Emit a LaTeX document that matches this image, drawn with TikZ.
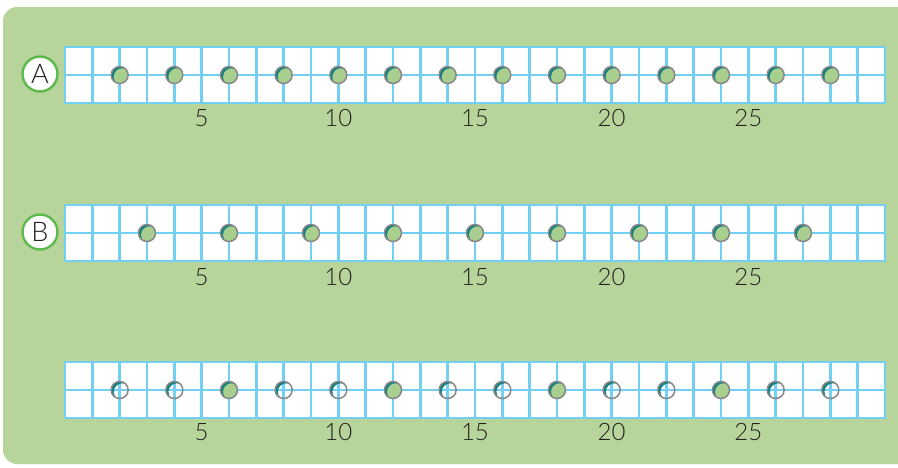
\documentclass[tikz,border=0pt]{standalone}
\usepackage{fontspec}
\setmainfont{Lato Light}
\definecolor{bgc}{HTML}{B7D59B}
\definecolor{gridc}{HTML}{73CFF4}
\definecolor{dotg}{HTML}{A9CF8E}
\definecolor{cresc}{HTML}{137F7F}
\definecolor{rimc}{HTML}{888888}
\definecolor{ringc}{HTML}{5DB94B}
\definecolor{txt}{HTML}{231F20}
\tikzset{
  gridline/.style={draw=gridc, line width=2.7pt},
  numlab/.style={text=txt, font=\fontsize{24}{27}\selectfont, inner sep=0pt},
  letterring/.style={circle, draw=ringc, line width=2.4pt, fill=white, minimum size=35pt, inner sep=0pt, text=txt, font=\fontsize{27}{30}\selectfont},
  rim/.style={draw=rimc, line width=1.5pt}
}
\newcommand\numgrid[1]{%
  \fill[white] (65,#1) rectangle (885,#1+56);
  \foreach \k in {1,...,29} {\draw[gridline] (65+27.333*\k,#1) -- ++(0,56);}
  \draw[gridline] (65,#1+28) -- (885,#1+28);
  \draw[gridline] (65,#1) rectangle (885,#1+56);
}
\newcommand\fulldot[2]{%
  \begin{scope}
    \clip (#1,#2) circle (8.5pt);
    \fill[cresc] (#1,#2) circle (8.5pt);
    \fill[dotg] (#1+2.6,#2+1.8) circle (8.5pt);
  \end{scope}
  \draw[rim] (#1,#2) circle (8.5pt);
}
\newcommand\opendot[2]{%
  \begin{scope}
    \clip (#1,#2) circle (8.5pt);
    \fill[cresc, even odd rule] (#1,#2) circle (8.5pt) (#1+2.6,#2+1.8) circle (8.5pt);
  \end{scope}
  \draw[rim] (#1,#2) circle (8.5pt);
}
\begin{document}
\begin{tikzpicture}[x=1pt,y=-1pt]
\useasboundingbox (0,0) rectangle (898,467);
\begin{scope}
  \clip (0,0) rectangle (898,467);
  \fill[bgc, rounded corners=14pt] (3,7) rectangle (930,464);
\end{scope}
% grid A
\numgrid{47}
\foreach \k in {2,4,...,28} {\pgfmathsetmacro\xx{65+27.333*\k}\fulldot{\xx}{75}}
\node[letterring] (la) at (40,74) {A};
% grid B
\numgrid{205}
\foreach \k in {3,6,...,27} {\pgfmathsetmacro\xx{65+27.333*\k}\fulldot{\xx}{233}}
\node[letterring] (lb) at (40,232) {B};
% grid C
\numgrid{362}
\foreach \k in {2,4,...,28} {%
  \pgfmathsetmacro\xx{65+27.333*\k}%
  \pgfmathtruncatemacro\mm{mod(\k,6)}%
  \ifnum\mm=0 \fulldot{\xx}{390}\else \opendot{\xx}{390}\fi}
% labels
\foreach \n/\yy/\r in {5/118/a,10/118/a,15/118/a,20/118/a,25/118/a,5/277/b,10/277/b,15/277/b,20/277/b,25/277/b,5/432/c,10/432/c,15/432/c,20/432/c,25/432/c} {%
  \pgfmathsetmacro\xx{65+27.333*\n}%
  \node[numlab] (n\r\n) at (\xx,\yy) {\n};}
\end{tikzpicture}
\end{document}
